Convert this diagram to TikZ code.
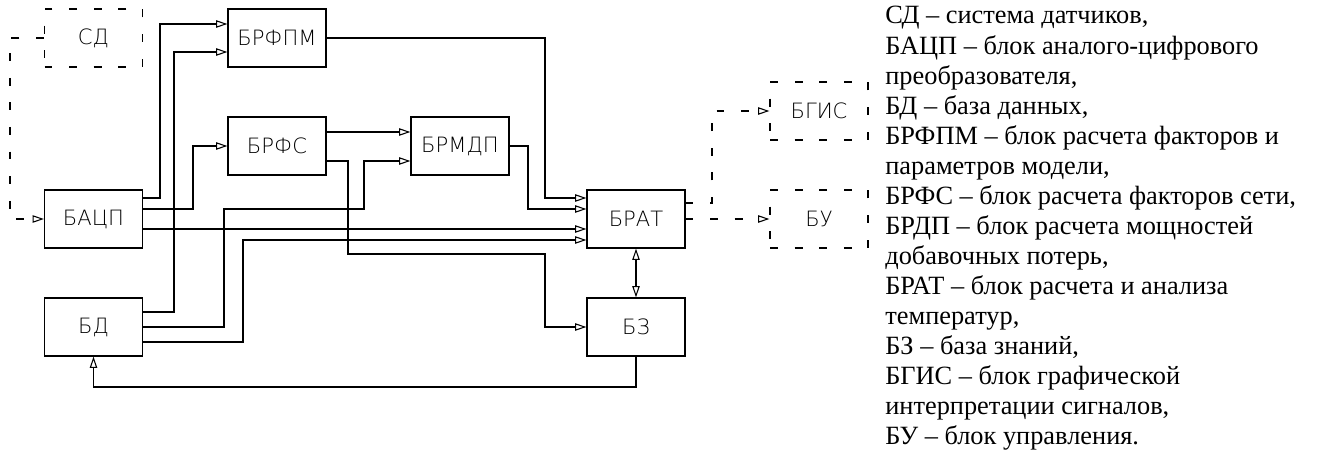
\documentclass[tikz,border=0pt]{standalone}
\usepackage{fontspec}
\setmainfont{Liberation Serif}
\newfontfamily\cadfont{DejaVu Sans ExtraLight}
\usetikzlibrary{arrows.meta}
\tikzset{
  blk/.style={draw, line width=0.6pt, minimum width=1.96cm, minimum height=1.16cm,
    inner sep=0pt, font=\cadfont\fontsize{12}{14}\selectfont},
  dblk/.style={blk, dash pattern=on 4.5pt off 9.5pt},
  opentip/.tip={Triangle[open, length=6.5pt, width=4.2pt]},
  lnk/.style={line width=0.6pt, -opentip},
  dlnk/.style={lnk, dash pattern=on 4.5pt off 9.5pt},
  leg/.style={anchor=base west, inner sep=0pt, font=\fontsize{15}{17}\selectfont},
}

\begin{document}
\begin{tikzpicture}[x=0.02cm, y=-0.02cm]
  \useasboundingbox (0,0) rectangle (1320,463);

  % Blocks
  \node[dblk] (sd)    at (93.5,38)  {СД};
  \node[blk]  (bacp)  at (93.5,219) {БАЦП};
  \node[blk]  (bd)    at (93.5,327) {БД};
  \node[blk]  (brfpm) at (277,38)   {БРФПМ};
  \node[blk]  (brfs)  at (277,146)  {БРФС};
  \node[blk]  (brmdp) at (460,146)  {БРМДП};
  \node[blk]  (brat)  at (636,219)  {БРАТ};
  \node[blk]  (bz)    at (636,327)  {БЗ};
  \node[dblk] (bgis)  at (819,111)  {БГИС};
  \node[dblk] (bu)    at (819,219)  {БУ};

  % --- Sensors and converter ---
  \draw[dlnk] (sd.west) -- ++(-34,0) |- (bacp.west);
  \draw[lnk] (bacp.east |- 0,198) -- (160,198) |- (brfpm.west |- 0,24);
  \draw[lnk] (bacp.east |- 0,209) -- (193,209) |- (brfs.west);
  \draw[lnk] (bacp.east |- 0,229) -- (brat.west |- 0,229);

  % --- Database ---
  \draw[lnk] (bd.east |- 0,312) -- (174,312) |- (brfpm.west |- 0,52);
  \draw[lnk] (bd.east) -- (224,327) -- (224,209) -- (364,209) |- (brmdp.west |- 0,161);
  \draw[lnk] (bd.east |- 0,342) -- (243,342) |- (brat.west |- 0,240);

  % --- Calculation blocks ---
  \draw[lnk] (brfs.east |- 0,132) -- (brmdp.west |- 0,132);
  \draw[lnk] (brfs.east |- 0,161) -- (348,161) -- (348,254) -- (545,254) |- (bz.west);
  \draw[lnk] (brfpm.east) -- (545,38) |- (brat.west |- 0,198);
  \draw[lnk] (brmdp.east) -- (528,146) |- (brat.west |- 0,209);

  % --- Temperatures and knowledge base ---
  \draw[line width=0.6pt, opentip-opentip] (brat.south) -- (bz.north);
  \draw[lnk] (bz.south) -- (636,387) -| (bd.south);

  % --- Outputs ---
  \draw[dlnk] (brat.east |- 0,203) -- (712,203) |- (bgis.west);
  \draw[dlnk] (brat.east) -- (bu.west);

  % Legend
  \foreach \t [count=\i] in {
    {СД – система датчиков,},
    {БАЦП – блок аналого-цифрового},
    {преобразователя,},
    {БД – база данных,},
    {БРФПМ – блок расчета факторов и},
    {параметров модели,},
    {БРФС – блок расчета факторов сети,},
    {БРДП – блок расчета мощностей},
    {добавочных потерь,},
    {БРАТ – блок расчета и анализа},
    {температур,},
    {БЗ – база знаний,},
    {БГИС – блок графической},
    {интерпретации сигналов,},
    {БУ – блок управления.}}
    \node[leg] (leg\i) at (885,{24+30*(\i-1)}) {\t};
\end{tikzpicture}
\end{document}
